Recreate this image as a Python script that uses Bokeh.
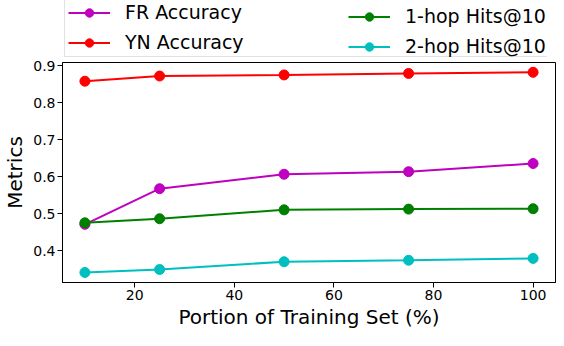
from bokeh.plotting import figure
from bokeh.layouts import column
from bokeh.models import Legend, LegendItem, FixedTicker, Range1d
from bokeh.embed import file_html
from bokeh.resources import INLINE

portion = [10, 25, 50, 75, 100]
fr_acc = [0.472, 0.568, 0.607, 0.614, 0.636]
yn_acc = [0.858, 0.872, 0.875, 0.879, 0.882]
hop1_hits = [0.476, 0.487, 0.511, 0.513, 0.514]
hop2_hits = [0.342, 0.350, 0.371, 0.375, 0.380]

series_names = ["FR Accuracy", "YN Accuracy", "1-hop Hits@10", "2-hop Hits@10"]
series_values = [fr_acc, yn_acc, hop1_hits, hop2_hits]
series_colors = ["#bf00bf", "#ff0000", "#008000", "#00bfbf"]

FONT = "DejaVu Sans"
W = 548
LEFT = 54
FRAME_W = W - LEFT - 1
TOP_H = 58
TOP_B, BOT_B = 4, 48
FRAME_H = 330 - TOP_H - TOP_B - BOT_B

# ---- main plot ----
p = figure(frame_width=FRAME_W, frame_height=FRAME_H,
           output_backend="svg", toolbar_location=None,
           x_range=Range1d(5.5, 104.5), y_range=Range1d(0.315, 0.9085),
           min_border_left=LEFT, min_border_right=1,
           min_border_top=TOP_B, min_border_bottom=BOT_B)

for name, vals, col in zip(series_names, series_values, series_colors):
    p.line(portion, vals, line_color=col, line_width=2)
    p.scatter(portion, vals, size=10, fill_color=col, line_color=col)

p.xgrid.visible = False
p.ygrid.visible = False
p.outline_line_color = "black"
p.outline_line_width = 1
p.outline_line_alpha = 1

p.xaxis.ticker = FixedTicker(ticks=[20, 40, 60, 80, 100])
p.yaxis.ticker = FixedTicker(ticks=[0.4, 0.5, 0.6, 0.7, 0.8, 0.9])
for ax in (p.xaxis, p.yaxis):
    ax.axis_line_color = "black"
    ax.major_tick_line_color = "black"
    ax.major_tick_out = 5
    ax.major_tick_in = 0
    ax.minor_tick_line_color = None
    ax.major_label_text_font = FONT
    ax.major_label_text_font_size = "14px"
    ax.major_label_text_color = "black"
    ax.axis_label_text_font = FONT
    ax.axis_label_text_font_size = "20px"
    ax.axis_label_text_font_style = "normal"
    ax.axis_label_text_color = "black"
    ax.major_label_standoff = 2

p.xaxis.axis_label = "Portion of Training Set (%)"
p.yaxis.axis_label = "Metrics"
p.xaxis.axis_label_standoff = 2
p.yaxis.axis_label_standoff = 3

# ---- legend strip above the plot (its frame is aligned with the main plot's) ----
lg = figure(width=W, height=TOP_H, output_backend="svg", toolbar_location=None,
            x_axis_type=None, y_axis_type=None,
            x_range=Range1d(0, 1), y_range=Range1d(0, 1),
            min_border_left=0, min_border_right=0, min_border_top=0, min_border_bottom=0)
lg.outline_line_color = None

items = []
for name, vals, col in zip(series_names, series_values, series_colors):
    # data lies outside this strip's ranges: only the legend swatches are seen
    r1 = lg.line(portion, vals, line_color=col, line_width=2)
    r2 = lg.scatter(portion, vals, size=10, fill_color=col, line_color=col)
    items.append(LegendItem(label=name, renderers=[r1, r2]))

PAD = 3
common = dict(label_text_font=FONT, label_text_font_size="19px",
              label_text_color="black", glyph_width=42, glyph_height=21,
              label_height=21, label_standoff=15, spacing=8, padding=PAD, margin=0)

legend_left = Legend(items=items[:2], location=(2, 1),
                     label_width=FRAME_W - 4 - 2 * PAD - 42 - 15,
                     border_line_color="#c4c4c4",
                     border_line_width=1, background_fill_alpha=0.8, **common)
legend_right = Legend(items=items[2:], location=(286, 1),
                      border_line_color=None, background_fill_alpha=0, **common)
lg.add_layout(legend_left)
lg.add_layout(legend_right)

layout = column(lg, p, spacing=0)
open("out.html", "w").write(file_html(layout, INLINE))
